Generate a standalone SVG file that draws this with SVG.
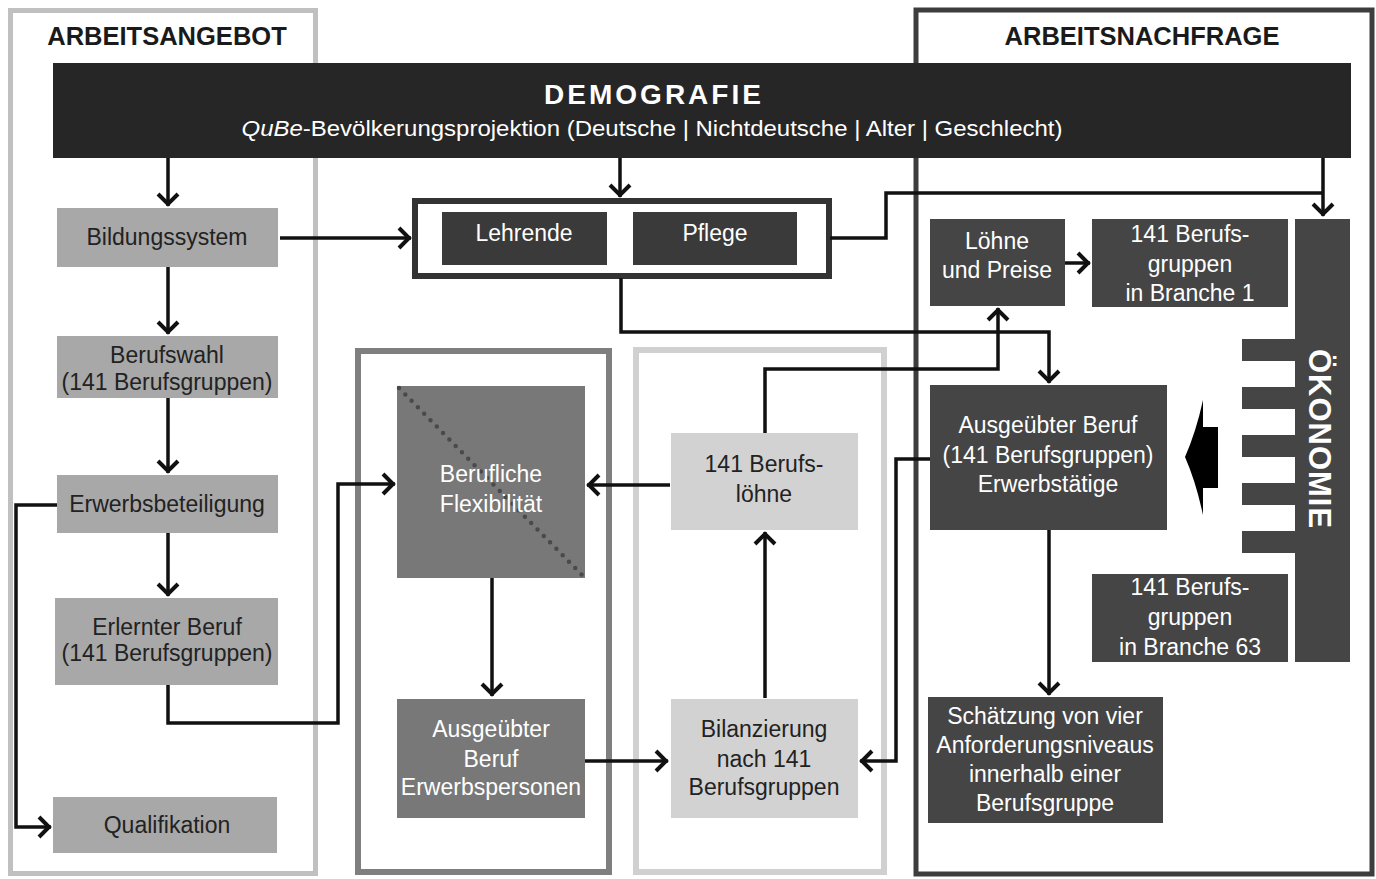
<svg xmlns="http://www.w3.org/2000/svg" width="1376" height="879" viewBox="0 0 1376 879">
<defs>
<style>
text{font-family:"Liberation Sans",Arial,sans-serif;font-size:23px;text-anchor:middle}
.dk{fill:#222}
.wt{fill:#fff}
.ttl{font-weight:bold;font-size:25.5px;fill:#1a1a1a}
.conn{fill:none;stroke:#111;stroke-width:3.5;stroke-linejoin:miter}
.arr{marker-end:url(#ah)}
.bl{fill:#a8a8a8}
.bm{fill:#787878}
.bx{fill:#d2d2d2}
.bd{fill:#454545}
</style>
<marker id="ah" markerUnits="userSpaceOnUse" markerWidth="16" markerHeight="24" viewBox="-14 -12 16 24" refX="0" refY="0" orient="auto" overflow="visible">
<path d="M-12,-10 L-2,0 L-12,10" fill="none" stroke="#111" stroke-width="4"/>
</marker>
</defs>
<rect width="1376" height="879" fill="#fff"/>

<g id="panels">
<rect x="10.5" y="10.5" width="305" height="863" fill="none" stroke="#c0c0c0" stroke-width="5"/>
<rect x="916" y="10" width="456" height="864" fill="none" stroke="#3d3d3d" stroke-width="5"/>
<rect x="358" y="351" width="251" height="521" fill="none" stroke="#7f7f7f" stroke-width="6"/>
<rect x="636" y="350" width="248" height="522" fill="none" stroke="#d0d0d0" stroke-width="6"/>
<text class="ttl" x="167" y="45">ARBEITSANGEBOT</text>
<text class="ttl" x="1142" y="45">ARBEITSNACHFRAGE</text>
</g>

<g id="demografie">
<rect x="53" y="63" width="1298" height="95" fill="#262626"/>
<text x="654" y="104" class="wt" style="font-weight:bold;font-size:28px;letter-spacing:3px">DEMOGRAFIE</text>
<text x="652" y="136" class="wt" style="font-size:22px" textLength="821" lengthAdjust="spacingAndGlyphs"><tspan font-style="italic">QuBe</tspan>-Bevölkerungsprojektion (Deutsche | Nichtdeutsche | Alter | Geschlecht)</text>
</g>

<g id="bildungssystem">
<rect class="bl" x="57" y="208" width="221" height="59"/>
<text class="dk" x="167" y="245">Bildungssystem</text>
</g>
<g id="berufswahl">
<rect class="bl" x="57" y="336" width="221" height="62"/>
<text class="dk" x="167" y="363">Berufswahl</text>
<text class="dk" x="167" y="390">(141 Berufsgruppen)</text>
</g>
<g id="erwerbsbeteiligung">
<rect class="bl" x="57" y="475" width="221" height="58"/>
<text class="dk" x="167" y="512">Erwerbsbeteiligung</text>
</g>
<g id="erlernter-beruf">
<rect class="bl" x="55" y="598" width="223" height="87"/>
<text class="dk" x="167" y="635">Erlernter Beruf</text>
<text class="dk" x="167" y="661">(141 Berufsgruppen)</text>
</g>
<g id="qualifikation">
<rect class="bl" x="53" y="797" width="224" height="56"/>
<text class="dk" x="167" y="833">Qualifikation</text>
</g>

<g id="lehrende-pflege">
<rect x="415" y="201" width="414" height="75" fill="none" stroke="#333" stroke-width="6"/>
<rect x="442" y="212" width="165" height="53" fill="#3a3a3a"/>
<text class="wt" x="524" y="241">Lehrende</text>
<rect x="633" y="212" width="164" height="53" fill="#3a3a3a"/>
<text class="wt" x="715" y="241">Pflege</text>
</g>

<g id="flexibilitaet">
<rect class="bm" x="397" y="386" width="188" height="192"/>
<line x1="399" y1="388" x2="583" y2="576" stroke="#4a4a4a" stroke-width="4.5" stroke-linecap="round" stroke-dasharray="0 9"/>
<text class="wt" x="491" y="482">Berufliche</text>
<text class="wt" x="491" y="512">Flexibilität</text>
</g>
<g id="ausgeuebter-beruf-ep">
<rect class="bm" x="397" y="699" width="188" height="119"/>
<text class="wt" x="491" y="737">Ausgeübter</text>
<text class="wt" x="491" y="767">Beruf</text>
<text class="wt" x="491" y="795">Erwerbspersonen</text>
</g>
<g id="berufsloehne">
<rect class="bx" x="671" y="433" width="187" height="97"/>
<text class="dk" x="764" y="472">141 Berufs-</text>
<text class="dk" x="764" y="502">löhne</text>
</g>
<g id="bilanzierung">
<rect class="bx" x="671" y="699" width="187" height="119"/>
<text class="dk" x="764" y="737">Bilanzierung</text>
<text class="dk" x="764" y="767">nach 141</text>
<text class="dk" x="764" y="795">Berufsgruppen</text>
</g>

<g id="loehne-preise">
<rect class="bd" x="930" y="219" width="135" height="87"/>
<text class="wt" x="997" y="249">Löhne</text>
<text class="wt" x="997" y="278">und Preise</text>
</g>
<g id="branche-1">
<rect class="bd" x="1092" y="219" width="196" height="88"/>
<text class="wt" x="1190" y="242">141 Berufs-</text>
<text class="wt" x="1190" y="272">gruppen</text>
<text class="wt" x="1190" y="301">in Branche 1</text>
</g>
<g id="ausgeuebter-beruf-et">
<rect class="bd" x="930" y="385" width="237" height="145"/>
<text class="wt" x="1048" y="433">Ausgeübter Beruf</text>
<text class="wt" x="1048" y="463">(141 Berufsgruppen)</text>
<text class="wt" x="1048" y="492">Erwerbstätige</text>
</g>
<g id="branche-63">
<rect class="bd" x="1092" y="574" width="196" height="88"/>
<text class="wt" x="1190" y="595">141 Berufs-</text>
<text class="wt" x="1190" y="625">gruppen</text>
<text class="wt" x="1190" y="655">in Branche 63</text>
</g>
<g id="schaetzung">
<rect class="bd" x="928" y="697" width="235" height="126"/>
<text class="wt" x="1045" y="724">Schätzung von vier</text>
<text class="wt" x="1045" y="753">Anforderungsniveaus</text>
<text class="wt" x="1045" y="782">innerhalb einer</text>
<text class="wt" x="1045" y="811">Berufsgruppe</text>
</g>
<g id="oekonomie">
<rect class="bd" x="1295" y="219" width="55" height="443"/>
<rect class="bd" x="1242" y="339" width="54" height="22"/>
<rect class="bd" x="1242" y="387" width="54" height="22"/>
<rect class="bd" x="1242" y="435" width="54" height="22"/>
<rect class="bd" x="1242" y="483" width="54" height="22"/>
<rect class="bd" x="1242" y="531" width="54" height="22"/>
<text class="wt" transform="translate(1309,439) rotate(90)" style="font-weight:bold;font-size:31px;letter-spacing:1px">ÖKONOMIE</text>
</g>

<g id="connectors">
<path class="conn arr" d="M168,158 V206"/>
<path class="conn arr" d="M168,267 V334"/>
<path class="conn arr" d="M168,398 V473"/>
<path class="conn arr" d="M168,533 V596"/>
<path class="conn arr" d="M57,505 H16 V827 H51"/>
<path class="conn arr" d="M168,685 V723 H338 V484 H395"/>
<path class="conn arr" d="M280,238 H411"/>
<path class="conn arr" d="M620,158 V197"/>
<path class="conn" d="M830,238 H886 V193 H1323"/>
<path class="conn arr" d="M1323,158 V216"/>
<path class="conn arr" d="M621,278 V332 H1049 V383"/>
<path class="conn arr" d="M765,433 V369 H998 V308"/>
<path class="conn arr" d="M1065,263 H1090"/>
<path class="conn arr" d="M492,578 V696"/>
<path class="conn arr" d="M585,761 H668"/>
<path class="conn arr" d="M765,698 V532"/>
<path class="conn arr" d="M670,485 H587"/>
<path class="conn arr" d="M930,459 H896 V761 H860"/>
<path class="conn arr" d="M1049,530 V695"/>
<path d="M1185,457 Q1196,432 1203,400 V427 H1218 V488 H1203 V515 Q1196,482 1185,457 Z" fill="#000"/>
</g>
</svg>
